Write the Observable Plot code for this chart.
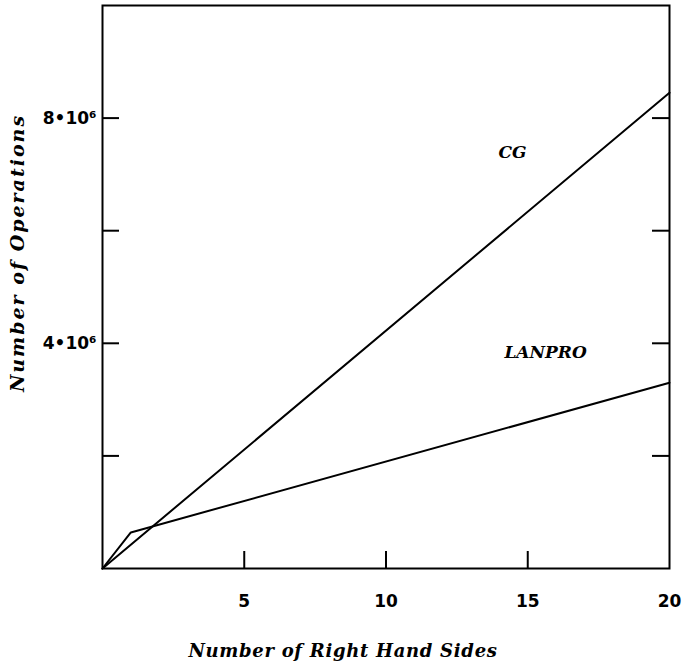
<!DOCTYPE html>
<html>
<head>
<meta charset="utf-8">
<script src="https://cdn.jsdelivr.net/npm/d3@7"></script>
<script src="https://cdn.jsdelivr.net/npm/@observablehq/plot@0.6"></script>
<style>
  html, body { margin: 0; padding: 0; background: #fff; }
</style>
</head>
<body>
<div id="chart"></div>
<script>
// Data
const cgRhs = [0, 20];
const cgOps = [0, 8.45e6];
const lanproRhs = [0, 1, 20];
const lanproOps = [0, 0.64e6, 3.30e6];
const seriesLabels = ["CG", "LANPRO"];
const labelRhs = [14.46, 15.63];
const labelOps = [7.39e6, 3.84e6];
const xTickValues = [5, 10, 15, 20];
const xTickMarks = [5, 10, 15];
const yTickValues = [2e6, 4e6, 6e6, 8e6];
const yTickLabels = [4e6, 8e6];
const xTitle = "Number of Right Hand Sides";
const yTitle = "Number of Operations";

const W = 682, H = 666;
const mL = 102, mR = 13, mT = 5, mB = 98;
const plotW = W - mL - mR, plotH = H - mT - mB;
const tickLen = 17;

const cgData = cgRhs.map((x, i) => ({x, y: cgOps[i]}));
const lanData = lanproRhs.map((x, i) => ({x, y: lanproOps[i]}));
const labData = seriesLabels.map((t, i) => ({t, x: labelRhs[i], y: labelOps[i]}));

const chart = Plot.plot({
  width: W,
  height: H,
  marginLeft: mL,
  marginRight: mR,
  marginTop: mT,
  marginBottom: mB,
  style: {background: "#fff", color: "#000", fontFamily: "DejaVu Sans"},
  x: {domain: [0, 20]},
  y: {domain: [0, 10e6]},
  marks: [
    Plot.frame({stroke: "#000", strokeWidth: 2}),
    Plot.tickY(yTickValues, {y: d => d, stroke: "#000", strokeWidth: 2, insetRight: plotW - tickLen}),
    Plot.tickY(yTickValues, {y: d => d, stroke: "#000", strokeWidth: 2, insetLeft: plotW - tickLen}),
    Plot.tickX(xTickMarks, {x: d => d, stroke: "#000", strokeWidth: 2, insetTop: plotH - tickLen}),
    Plot.axisX({ticks: xTickValues, tickSize: 0, tickPadding: 26, fontSize: 17, fontWeight: "bold", fontFamily: "DejaVu Sans", label: null}),
    Plot.axisY({ticks: yTickLabels, tickSize: 0, tickPadding: 6, fontSize: 17, fontWeight: "bold", fontFamily: "DejaVu Sans",
      tickFormat: d => (d / 1e6) + "•10⁶", label: null}),
    Plot.line(cgData, {x: "x", y: "y", stroke: "#000", strokeWidth: 2}),
    Plot.line(lanData, {x: "x", y: "y", stroke: "#000", strokeWidth: 2}),
    Plot.text(labData, {x: "x", y: "y", text: "t", fontSize: 17, fontStyle: "italic", fontWeight: "bold", fontFamily: "DejaVu Serif", fill: "#000"}),
    Plot.text([yTitle], {frameAnchor: "left", textAnchor: "middle", rotate: -90, dx: -85, dy: -34, fontSize: 19, fontStyle: "italic", fontWeight: "bold", fontFamily: "DejaVu Serif", fill: "#000"}),
    Plot.text([xTitle], {frameAnchor: "bottom", textAnchor: "middle", dx: -43, dy: 88, fontSize: 18, fontStyle: "italic", fontWeight: "bold", fontFamily: "DejaVu Serif", fill: "#000"})
  ]
});
d3.select(chart).selectAll("text").each(function () {
  const t = this.textContent;
  if (t === yTitle) this.setAttribute("letter-spacing", "2");
  if (t === xTitle) this.setAttribute("letter-spacing", "0.7");
});
document.getElementById("chart").appendChild(chart);
</script>
</body>
</html>
